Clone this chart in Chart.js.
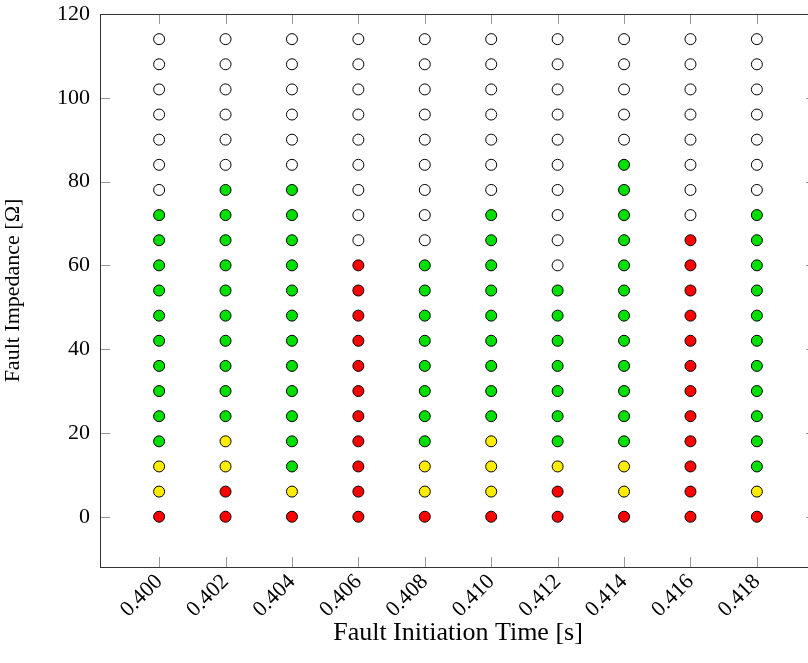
<!DOCTYPE html>
<html>
<head>
<meta charset="utf-8">
<script src="https://cdn.jsdelivr.net/npm/chart.js@4.4.1/dist/chart.umd.min.js"></script>
<style>
  html, body { margin: 0; padding: 0; overflow: hidden; background: #fff; }
  #wrap { position: relative; width: 840px; height: 663px; }
</style>
</head>
<body>
<div id="wrap"><canvas id="grid-chart"></canvas></div>
<script>
// fault initiation times (columns) and impedances (rows)
const faultTimes = [0.400, 0.402, 0.404, 0.406, 0.408, 0.410, 0.412, 0.414, 0.416, 0.418];
const impedances = [0, 6, 12, 18, 24, 30, 36, 42, 48, 54, 60, 66, 72, 78, 84, 90, 96, 102, 108, 114];
const xTicks = [0.400, 0.402, 0.404, 0.406, 0.408, 0.410, 0.412, 0.414, 0.416, 0.418];
const yTicks = [0, 20, 40, 60, 80, 100, 120];

// outcome per column, bottom row (0 ohm) first: R red, Y yellow, G green, W white
const outcomes = [
  "RYYGGGGGGGGGGWWWWWWW", // 0.400
  "RRYYGGGGGGGGGGWWWWWW", // 0.402
  "RYGGGGGGGGGGGGWWWWWW", // 0.404
  "RRRRRRRRRRRWWWWWWWWW", // 0.406
  "RYYGGGGGGGGWWWWWWWWW", // 0.408
  "RYYYGGGGGGGGGWWWWWWW", // 0.410
  "RRYGGGGGGGWWWWWWWWWW", // 0.412
  "RYYGGGGGGGGGGGGWWWWW", // 0.414
  "RRRRRRRRRRRRWWWWWWWW", // 0.416
  "RYGGGGGGGGGGGWWWWWWW"  // 0.418
];

const fills = { R: '#ff0000', Y: '#ffec00', G: '#00e000', W: '#ffffff' };

function pointsFor(code) {
  const pts = [];
  faultTimes.forEach((t, c) => {
    impedances.forEach((z, r) => {
      if (outcomes[c][r] === code) pts.push({ x: t, y: z });
    });
  });
  return pts;
}

const serif = "'Liberation Serif', 'DejaVu Serif', serif";

// pgfplots style frame with inward ticks
const framePlugin = {
  id: 'frame',
  afterDraw(chart) {
    const { ctx, chartArea: a, scales } = chart;
    ctx.save();
    ctx.strokeStyle = '#999';
    ctx.lineWidth = 1;
    ctx.beginPath();
    xTicks.forEach(v => {
      const px = Math.round(scales.x.getPixelForValue(v)) + 0.5;
      ctx.moveTo(px, a.bottom); ctx.lineTo(px, a.bottom - 10);
      ctx.moveTo(px, a.top); ctx.lineTo(px, a.top + 10);
    });
    yTicks.forEach(v => {
      const py = Math.round(scales.y.getPixelForValue(v)) + 0.5;
      ctx.moveTo(a.left, py); ctx.lineTo(a.left + 10, py);
      ctx.moveTo(a.right, py); ctx.lineTo(a.right - 10, py);
    });
    ctx.stroke();
    ctx.strokeStyle = '#333';
    ctx.strokeRect(Math.round(a.left) + 0.5, Math.round(a.top) + 0.5,
      Math.round(a.right - a.left), Math.round(a.bottom - a.top));
    ctx.restore();
  }
};

function ds(code) {
  return {
    data: pointsFor(code),
    backgroundColor: fills[code],
    borderColor: '#000',
    borderWidth: 1,
    pointRadius: 5.5,
    pointHoverRadius: 5.5
  };
}

function noPad(s) {
  s.paddingTop = 0; s.paddingBottom = 0; s.paddingLeft = 0; s.paddingRight = 0;
}

new Chart(document.getElementById('grid-chart'), {
  type: 'scatter',
  data: { datasets: [ds('W'), ds('G'), ds('Y'), ds('R')] },
  options: {
    responsive: true,
    maintainAspectRatio: false,
    animation: false,
    layout: { padding: { top: 14, right: 24, left: 0, bottom: 0 } },
    plugins: { legend: { display: false }, tooltip: { enabled: false } },
    scales: {
      x: {
        type: 'linear',
        min: 0.39822,
        max: 0.41978,
        afterFit: s => { s.height = 96; noPad(s); },
        afterBuildTicks: s => { s.ticks = xTicks.map(v => ({ value: v })); },
        grid: { display: false, drawTicks: false },
        border: { display: false },
        ticks: {
          color: '#000',
          font: { family: serif, size: 22 },
          minRotation: 45,
          maxRotation: 45,
          padding: 2,
          callback: v => v.toFixed(3)
        },
        title: {
          display: true,
          text: 'Fault Initiation Time [s]',
          color: '#000',
          font: { family: serif, size: 26 },
          padding: { top: 0, bottom: 14 }
        }
      },
      y: {
        type: 'linear',
        min: -12,
        max: 120,
        afterFit: s => { s.width = 100; noPad(s); },
        afterBuildTicks: s => { s.ticks = yTicks.map(v => ({ value: v })); },
        grid: { display: false, drawTicks: false },
        border: { display: false },
        ticks: {
          color: '#000',
          font: { family: serif, size: 22 },
          padding: 10
        },
        title: {
          display: true,
          text: 'Fault Impedance [Ω]',
          color: '#000',
          font: { family: serif, size: 22 },
          padding: { top: 0, bottom: 14 }
        }
      }
    }
  },
  plugins: [framePlugin]
});
</script>
</body>
</html>
